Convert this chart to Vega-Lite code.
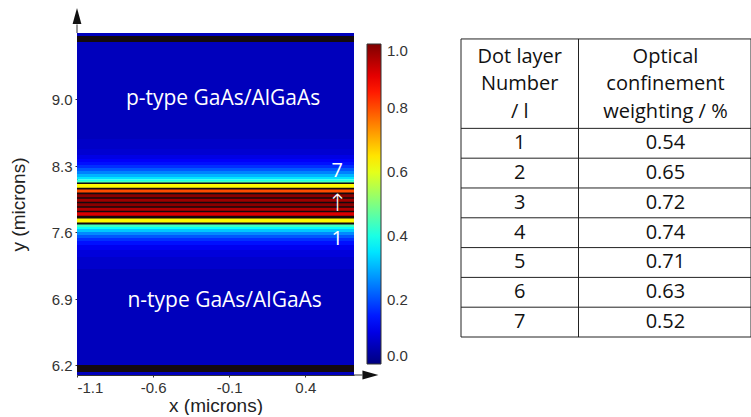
{
  "$schema": "https://vega.github.io/schema/vega-lite/v6.json",
  "background": "white",
  "padding": {"left": 9, "top": 8, "right": 1, "bottom": 0},
  "bounds": "flush",
  "spacing": 107,
  "config": {
    "view": {"stroke": null},
    "legend": {"gradientVerticalMaxLength": 400},
    "axis": {"grid": false}
  },
  "resolve": {
    "scale": {"color": "independent", "x": "independent", "y": "independent"},
    "legend": {"color": "independent"}
  },
  "datasets": {
    "field": [
      {"top": 9.7, "bottom": 8.584, "v": 0.06},
      {"top": 8.584, "bottom": 8.479, "v": 0.07},
      {"top": 8.479, "bottom": 8.416, "v": 0.08},
      {"top": 8.416, "bottom": 8.374, "v": 0.1},
      {"top": 8.374, "bottom": 8.342, "v": 0.12},
      {"top": 8.342, "bottom": 8.311, "v": 0.14},
      {"top": 8.311, "bottom": 8.279, "v": 0.17},
      {"top": 8.279, "bottom": 8.247, "v": 0.21},
      {"top": 8.247, "bottom": 8.216, "v": 0.25},
      {"top": 8.216, "bottom": 8.184, "v": 0.3},
      {"top": 8.184, "bottom": 8.158, "v": 0.35},
      {"top": 8.158, "bottom": 8.142, "v": 0.4},
      {"top": 8.142, "bottom": 8.118, "v": 0.44},
      {"top": 8.118, "bottom": 8.06, "v": 0.63},
      {"top": 8.06, "bottom": 8.013, "v": 0.8},
      {"top": 8.013, "bottom": 7.963, "v": 0.99},
      {"top": 7.963, "bottom": 7.916, "v": 0.97},
      {"top": 7.916, "bottom": 7.868, "v": 0.99},
      {"top": 7.868, "bottom": 7.821, "v": 0.95},
      {"top": 7.821, "bottom": 7.76, "v": 0.91},
      {"top": 7.76, "bottom": 7.694, "v": 0.63},
      {"top": 7.694, "bottom": 7.658, "v": 0.44},
      {"top": 7.658, "bottom": 7.637, "v": 0.38},
      {"top": 7.637, "bottom": 7.605, "v": 0.32},
      {"top": 7.605, "bottom": 7.574, "v": 0.26},
      {"top": 7.574, "bottom": 7.542, "v": 0.21},
      {"top": 7.542, "bottom": 7.511, "v": 0.17},
      {"top": 7.511, "bottom": 7.468, "v": 0.14},
      {"top": 7.468, "bottom": 7.416, "v": 0.11},
      {"top": 7.416, "bottom": 7.342, "v": 0.09},
      {"top": 7.342, "bottom": 7.216, "v": 0.075},
      {"top": 7.216, "bottom": 6.1, "v": 0.06}
    ],
    "dark": [
      {"top": 9.668, "bottom": 9.605},
      {"top": 8.126, "bottom": 8.111},
      {"top": 8.07, "bottom": 8.052},
      {"top": 8.022, "bottom": 8.003},
      {"top": 7.972, "bottom": 7.955},
      {"top": 7.925, "bottom": 7.908},
      {"top": 7.877, "bottom": 7.86},
      {"top": 7.83, "bottom": 7.812},
      {"top": 7.776, "bottom": 7.748},
      {"top": 7.706, "bottom": 7.684},
      {"top": 6.205, "bottom": 6.132}
    ],
    "regions": [
      {"x": -0.14, "y": 9.005, "text": "p-type GaAs/AlGaAs"},
      {"x": -0.13, "y": 6.882, "text": "n-type GaAs/AlGaAs"}
    ],
    "layerTags": [
      {"x": 0.61, "y": 8.247, "text": "7"},
      {"x": 0.61, "y": 7.532, "text": "1"}
    ],
    "stackArrow": [
      {"x": 0.61, "y": 7.9, "text": "↑"}
    ],
    "axisExt": [
      {"x": -1.1, "x2": -1.1, "y": 9.7, "y2": 9.79},
      {"x": 0.72, "x2": 0.775, "y": 6.1, "y2": 6.1}
    ],
    "heads": [
      {"x": -1.1, "y": 9.878, "dir": "up"},
      {"x": 0.828, "y": 6.1, "dir": "right"}
    ],
    "grid": [
      {"x": 0, "x2": 2.468, "y": -2.5, "y2": -2.5},
      {"x": 0, "x2": 2.468, "y": 0.5, "y2": 0.5},
      {"x": 0, "x2": 2.468, "y": 1.5, "y2": 1.5},
      {"x": 0, "x2": 2.468, "y": 2.5, "y2": 2.5},
      {"x": 0, "x2": 2.468, "y": 3.5, "y2": 3.5},
      {"x": 0, "x2": 2.468, "y": 4.5, "y2": 4.5},
      {"x": 0, "x2": 2.468, "y": 5.5, "y2": 5.5},
      {"x": 0, "x2": 2.468, "y": 6.5, "y2": 6.5},
      {"x": 0, "x2": 2.468, "y": 7.5, "y2": 7.5},
      {"x": 0, "x2": 0, "y": -2.5, "y2": 7.5},
      {"x": 1, "x2": 1, "y": -2.5, "y2": 7.5},
      {"x": 2.468, "x2": 2.468, "y": -2.5, "y2": 7.5}
    ],
    "header": [
      {"x": 0.5, "y": -1.9, "text": "Dot layer"},
      {"x": 0.5, "y": -1.0, "text": "Number"},
      {"x": 0.5, "y": -0.05, "text": "/ l"},
      {"x": 1.74, "y": -1.9, "text": "Optical"},
      {"x": 1.74, "y": -1.0, "text": "confinement"},
      {"x": 1.74, "y": -0.05, "text": "weighting / %"}
    ],
    "table": [
      {"layer": 1, "weight": 0.54},
      {"layer": 2, "weight": 0.65},
      {"layer": 3, "weight": 0.72},
      {"layer": 4, "weight": 0.74},
      {"layer": 5, "weight": 0.71},
      {"layer": 6, "weight": 0.63},
      {"layer": 7, "weight": 0.52}
    ]
  },
  "hconcat": [
    {
      "width": 277,
      "height": 342,
      "layer": [
        {
          "data": {"name": "field"},
          "mark": {"type": "rect"},
          "encoding": {
            "x": {
              "datum": -1.1, "type": "quantitative",
              "scale": {"domain": [-1.1, 0.72], "nice": false, "zero": false},
              "axis": {
                "values": [-1.1, -0.6, -0.1, 0.4],
                "labelExpr": "datum.value < 0 ? '-' + format(-datum.value, '.1f') : format(datum.value, '.1f')",
                "title": "x (microns)",
                "titleFont": "Liberation Sans", "titleFontSize": 19, "titleFontWeight": "normal", "titleColor": "#222", "titlePadding": 1,
                "labelFont": "Liberation Sans", "labelFontSize": 15, "labelColor": "#333", "labelPadding": 3,
                "tickSize": 2, "tickColor": "#333", "domainColor": "#333", "grid": false
              }
            },
            "x2": {"datum": 0.72},
            "y": {
              "field": "top", "type": "quantitative",
              "scale": {"domain": [6.1, 9.7], "nice": false, "zero": false},
              "axis": {
                "values": [6.2, 6.9, 7.6, 8.3, 9.0],
                "format": ".1f",
                "title": "y (microns)",
                "titleFont": "Liberation Sans", "titleFontSize": 19, "titleFontWeight": "normal", "titleColor": "#222", "titlePadding": 23,
                "labelFont": "Liberation Sans", "labelFontSize": 15, "labelColor": "#333", "labelPadding": 3,
                "tickSize": 2, "tickColor": "#333", "domainColor": "#333", "grid": false
              }
            },
            "y2": {"field": "bottom"},
            "color": {
              "field": "v", "type": "quantitative",
              "scale": {
                "domain": [0, 0.125, 0.375, 0.625, 0.875, 1],
                "range": ["#00007f", "#0000ff", "#00ffff", "#ffff00", "#ff0000", "#7f0000"],
                "interpolate": "rgb"
              },
              "legend": {
                "orient": "none", "legendX": 290, "legendY": 11,
                "title": null, "direction": "vertical",
                "gradientLength": 320, "gradientThickness": 14,
                "gradientStrokeColor": "#333", "gradientStrokeWidth": 1,
                "values": [0, 0.2, 0.4, 0.6, 0.8, 1], "format": ".1f",
                "labelFont": "Liberation Sans", "labelFontSize": 15, "labelColor": "#333", "labelOffset": 6,
                "padding": 0
              }
            }
          }
        },
        {
          "data": {"name": "dark"},
          "mark": {"type": "rect", "color": "#140a0e"},
          "encoding": {
            "x": {"datum": -1.1, "type": "quantitative", "scale": {"domain": [-1.1, 0.72], "nice": false, "zero": false}},
            "x2": {"datum": 0.72},
            "y": {"field": "top", "type": "quantitative", "scale": {"domain": [6.1, 9.7], "nice": false, "zero": false}},
            "y2": {"field": "bottom"}
          }
        },
        {
          "data": {"name": "regions"},
          "mark": {"type": "text", "font": "Open Sans", "fontSize": 21, "color": "white", "align": "center", "baseline": "middle"},
          "encoding": {
            "x": {"field": "x", "type": "quantitative", "scale": {"domain": [-1.1, 0.72], "nice": false, "zero": false}},
            "y": {"field": "y", "type": "quantitative", "scale": {"domain": [6.1, 9.7], "nice": false, "zero": false}},
            "text": {"field": "text"}
          }
        },
        {
          "data": {"name": "layerTags"},
          "mark": {"type": "text", "font": "Open Sans", "fontSize": 20, "color": "white", "align": "center", "baseline": "middle"},
          "encoding": {
            "x": {"field": "x", "type": "quantitative", "scale": {"domain": [-1.1, 0.72], "nice": false, "zero": false}},
            "y": {"field": "y", "type": "quantitative", "scale": {"domain": [6.1, 9.7], "nice": false, "zero": false}},
            "text": {"field": "text"}
          }
        },
        {
          "data": {"name": "stackArrow"},
          "mark": {"type": "text", "font": "DejaVu Sans", "fontSize": 24, "fontWeight": 300, "color": "white", "align": "center", "baseline": "middle"},
          "encoding": {
            "x": {"field": "x", "type": "quantitative", "scale": {"domain": [-1.1, 0.72], "nice": false, "zero": false}},
            "y": {"field": "y", "type": "quantitative", "scale": {"domain": [6.1, 9.7], "nice": false, "zero": false}},
            "text": {"field": "text"}
          }
        },
        {
          "data": {"name": "axisExt"},
          "mark": {"type": "rule", "color": "#333", "strokeWidth": 1},
          "encoding": {
            "x": {"field": "x", "type": "quantitative", "scale": {"domain": [-1.1, 0.72], "nice": false, "zero": false}},
            "x2": {"field": "x2"},
            "y": {"field": "y", "type": "quantitative", "scale": {"domain": [6.1, 9.7], "nice": false, "zero": false}},
            "y2": {"field": "y2"}
          }
        },
        {
          "data": {"name": "heads"},
          "mark": {"type": "point", "filled": true, "color": "#111", "opacity": 1, "size": 256},
          "encoding": {
            "x": {"field": "x", "type": "quantitative", "scale": {"domain": [-1.1, 0.72], "nice": false, "zero": false}},
            "y": {"field": "y", "type": "quantitative", "scale": {"domain": [6.1, 9.7], "nice": false, "zero": false}},
            "shape": {
              "field": "dir", "type": "nominal",
              "scale": {"domain": ["up", "right"], "range": ["M0,-1L0.55,1L-0.55,1Z", "M1,0L-1,0.55L-1,-0.55Z"]},
              "legend": null
            }
          }
        }
      ]
    },
    {
      "width": 290,
      "height": 304,
      "layer": [
        {
          "data": {"name": "grid"},
          "mark": {"type": "rule", "color": "#222", "strokeWidth": 1},
          "encoding": {
            "x": {"field": "x", "type": "quantitative", "scale": {"domain": [0, 2.468], "nice": false, "zero": false}, "axis": null},
            "x2": {"field": "x2"},
            "y": {"field": "y", "type": "quantitative", "scale": {"domain": [-2.7, 7.5], "nice": false, "zero": false, "reverse": true}, "axis": null},
            "y2": {"field": "y2"}
          }
        },
        {
          "data": {"name": "header"},
          "mark": {"type": "text", "font": "Open Sans", "fontSize": 20, "color": "#111", "align": "center", "baseline": "middle"},
          "encoding": {
            "x": {"field": "x", "type": "quantitative", "scale": {"domain": [0, 2.468], "nice": false, "zero": false}, "axis": null},
            "y": {"field": "y", "type": "quantitative", "scale": {"domain": [-2.7, 7.5], "nice": false, "zero": false, "reverse": true}, "axis": null},
            "text": {"field": "text"}
          }
        },
        {
          "data": {"name": "table"},
          "mark": {"type": "text", "font": "Open Sans", "fontSize": 20, "color": "#111", "align": "center", "baseline": "middle"},
          "encoding": {
            "x": {"datum": 0.5, "type": "quantitative", "scale": {"domain": [0, 2.468], "nice": false, "zero": false}, "axis": null},
            "y": {"field": "layer", "type": "quantitative", "scale": {"domain": [-2.7, 7.5], "nice": false, "zero": false, "reverse": true}, "axis": null},
            "text": {"field": "layer", "type": "quantitative"}
          }
        },
        {
          "data": {"name": "table"},
          "mark": {"type": "text", "font": "Open Sans", "fontSize": 20, "color": "#111", "align": "center", "baseline": "middle"},
          "encoding": {
            "x": {"datum": 1.74, "type": "quantitative", "scale": {"domain": [0, 2.468], "nice": false, "zero": false}, "axis": null},
            "y": {"field": "layer", "type": "quantitative", "scale": {"domain": [-2.7, 7.5], "nice": false, "zero": false, "reverse": true}, "axis": null},
            "text": {"field": "weight", "type": "quantitative", "format": ".2f"}
          }
        }
      ]
    }
  ]
}
